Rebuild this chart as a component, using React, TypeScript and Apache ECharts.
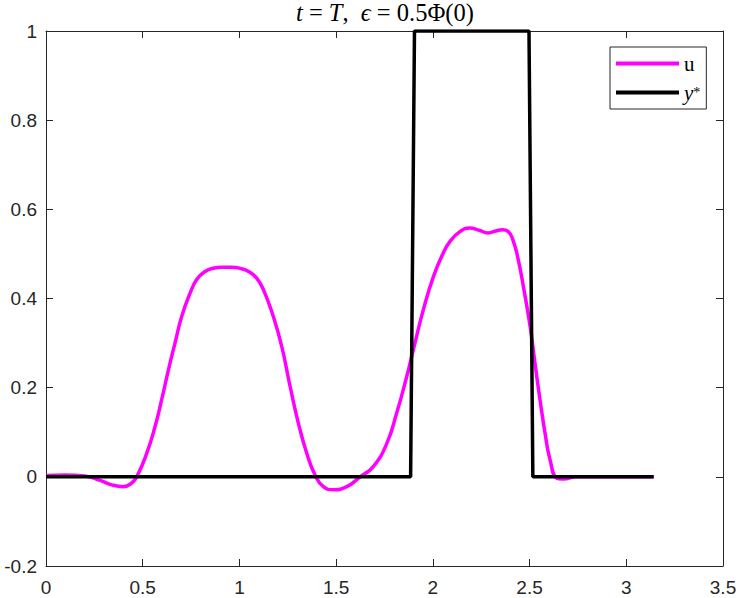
import React, { useEffect, useRef } from "react";
import * as echarts from "echarts";

const xTicks = [0, 0.5, 1, 1.5, 2, 2.5, 3, 3.5];
const yTicks = [-0.2, 0, 0.2, 0.4, 0.6, 0.8, 1];

const uX = [0, 0.1, 0.2, 0.28, 0.34, 0.4, 0.44, 0.469, 0.521, 0.564, 0.598, 0.633, 0.667, 0.702, 0.745, 0.78, 0.82, 0.865, 0.91, 0.96, 1.01, 1.05, 1.09, 1.124, 1.175, 1.219, 1.262, 1.305, 1.348, 1.391, 1.434, 1.486, 1.555, 1.624, 1.692, 1.762, 1.813, 1.865, 1.899, 1.951, 2.003, 2.054, 2.089, 2.14, 2.19, 2.24, 2.285, 2.33, 2.36, 2.39, 2.415, 2.44, 2.468, 2.503, 2.528, 2.554, 2.58, 2.606, 2.641, 2.673, 2.744, 2.85, 3.1416];
const uY = [0.003, 0.004, 0.002, -0.008, -0.018, -0.022, -0.015, 0, 0.053, 0.113, 0.173, 0.24, 0.3, 0.36, 0.412, 0.443, 0.46, 0.468, 0.47, 0.47, 0.467, 0.46, 0.445, 0.42, 0.36, 0.292, 0.203, 0.12, 0.053, 0.004, -0.022, -0.029, -0.022, 0, 0.023, 0.075, 0.143, 0.225, 0.285, 0.375, 0.449, 0.502, 0.528, 0.55, 0.558, 0.553, 0.547, 0.552, 0.554, 0.55, 0.53, 0.49, 0.427, 0.337, 0.255, 0.173, 0.098, 0.038, -0.003, -0.005, 0, 0, 0];

const yStarX = [0, 1.885, 1.905, 2.497, 2.517, 3.1416];
const yStarY = [0, 0, 1, 1, 0, 0];

const axisColor = "#262626";

export default function App() {
  const ref = useRef<HTMLDivElement>(null);
  useEffect(() => {
    if (!ref.current) return;
    const chart = echarts.init(ref.current, null, { renderer: "svg" });
    const labelFont = { fontFamily: "Liberation Sans, Arial, sans-serif", fontSize: 19, color: axisColor };
    const fmt = (v: number) => String(Math.round(v * 10) / 10);
    const baseX = {
      type: "value" as const,
      min: xTicks[0],
      max: xTicks[xTicks.length - 1],
      interval: 0.5,
      splitLine: { show: false },
      axisLine: { show: true, onZero: false, lineStyle: { color: axisColor, width: 1 } },
      axisTick: { show: true, inside: true, length: 7, lineStyle: { color: axisColor } },
    };
    const baseY = {
      type: "value" as const,
      min: yTicks[0],
      max: yTicks[yTicks.length - 1],
      interval: 0.2,
      splitLine: { show: false },
      axisLine: { show: true, onZero: false, lineStyle: { color: axisColor, width: 1 } },
      axisTick: { show: true, inside: true, length: 7, lineStyle: { color: axisColor } },
    };
    chart.setOption({
      animation: false,
      backgroundColor: "#ffffff",
      title: {
        text: "{i|t} = {i|T},  {i|ϵ} = 0.5Φ(0)",
        left: 296,
        top: 0,
        padding: 0,
        textStyle: {
          fontFamily: "Liberation Serif, serif",
          fontSize: 24.5,
          fontWeight: "normal",
          color: "#000",
          rich: {
            i: { fontFamily: "Liberation Serif, serif", fontSize: 24.5, fontStyle: "italic", color: "#000" },
          },
        },
      },
      legend: {
        left: 610,
        top: 47,
        orient: "vertical",
        padding: [6, 6, 6, 6],
        itemGap: 8,
        itemWidth: 63,
        itemHeight: 4,
        icon: "rect",
        borderColor: axisColor,
        borderWidth: 1,
        backgroundColor: "#fff",
        data: ["u", "y*"],
        formatter: (name: string) => (name === "u" ? "{u|u}" : "{i|y}{s|*}"),
        textStyle: {
          fontFamily: "Liberation Serif, serif",
          fontSize: 21,
          lineHeight: 15,
          color: "#000",
          rich: {
            u: { fontFamily: "Liberation Serif, serif", fontSize: 21, lineHeight: 15 },
            i: { fontFamily: "Liberation Serif, serif", fontSize: 21, fontStyle: "italic", lineHeight: 15 },
            s: { fontFamily: "Liberation Serif, serif", fontSize: 14, verticalAlign: "top", lineHeight: 15 },
          },
        },
      },
      grid: { left: 46, right: 17, top: 31, bottom: 32, containLabel: false },
      xAxis: [
        { ...baseX, position: "bottom", axisLabel: { ...labelFont, margin: 12, formatter: fmt } },
        { ...baseX, position: "top", axisLabel: { show: false } },
      ],
      yAxis: [
        { ...baseY, position: "left", axisLabel: { ...labelFont, margin: 9, formatter: fmt } },
        { ...baseY, position: "right", axisLabel: { show: false } },
      ],
      series: [
        {
          name: "u",
          type: "line",
          data: uX.map((x, i) => [x, uY[i]]),
          smooth: 0.5,
          showSymbol: false,
          color: "#ff00ff",
          lineStyle: { color: "#ff00ff", width: 3.5 },
          z: 2,
        },
        {
          name: "y*",
          type: "line",
          data: yStarX.map((x, i) => [x, yStarY[i]]),
          showSymbol: false,
          color: "#000000",
          lineStyle: { color: "#000000", width: 3.5 },
          z: 3,
        },
      ],
    });
    return () => chart.dispose();
  }, []);
  return <div ref={ref} style={{ position: "fixed", left: 0, top: 0, width: 740, height: 598 }} />;
}
